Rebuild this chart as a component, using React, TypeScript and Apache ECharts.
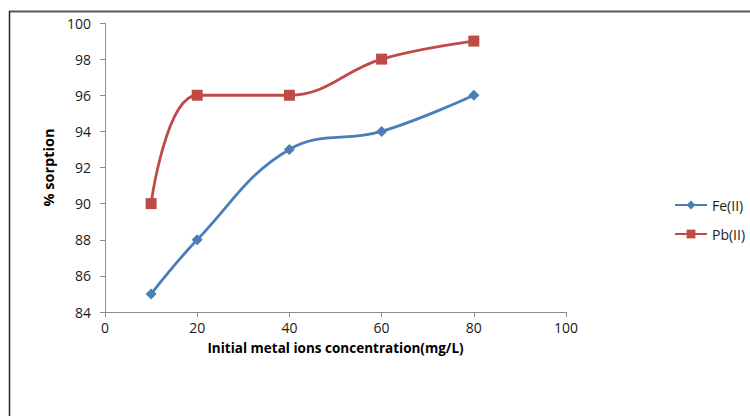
import React, { useEffect, useRef } from "react";
import * as echarts from "echarts";

const concentrations = [10, 20, 40, 60, 80];
const feValues = [85, 88, 93, 94, 96];
const pbValues = [90, 96, 96, 98, 99];
const seriesNames = ["Fe(II)", "Pb(II)"];
const xTitle = "Initial metal ions concentration(mg/L)";
const yTitle = "% sorption";

export default function App() {
  const ref = useRef<HTMLDivElement>(null);
  useEffect(() => {
    document.body.style.margin = "0";
    const chart = echarts.init(ref.current!, null, { renderer: "svg" });
    const font = "'Open Sans', 'Liberation Sans', sans-serif";
    chart.setOption({
      animation: false,
      backgroundColor: "#ffffff",
      textStyle: { fontFamily: font },
      grid: { left: 105, right: 184, top: 23, bottom: 104 },
      legend: {
        orient: "vertical",
        left: 669,
        top: 193,
        itemWidth: 32,
        itemHeight: 11,
        itemGap: 15,
        textStyle: { fontSize: 14, color: "#1a1a1a", fontFamily: font },
        data: seriesNames,
      },
      xAxis: {
        type: "value",
        min: 0,
        max: 100,
        interval: 20,
        name: xTitle,
        nameLocation: "middle",
        nameGap: 29,
        nameTextStyle: { fontSize: 13.5, fontWeight: "bold", color: "#000", fontFamily: font },
        axisLine: { show: true, lineStyle: { color: "#8c8c8c", width: 1 } },
        axisTick: { show: true, length: 5, lineStyle: { color: "#8c8c8c" } },
        axisLabel: { fontSize: 14, color: "#1a1a1a", margin: 8 },
        splitLine: { show: false },
      },
      yAxis: {
        type: "value",
        min: 84,
        max: 100,
        interval: 2,
        name: yTitle,
        nameLocation: "middle",
        nameGap: 48,
        nameRotate: 90,
        nameTextStyle: { fontSize: 14.5, fontWeight: "bold", color: "#000", fontFamily: font },
        axisLine: { show: true, lineStyle: { color: "#8c8c8c", width: 1 } },
        axisTick: { show: true, length: 5, lineStyle: { color: "#8c8c8c" } },
        axisLabel: { fontSize: 14, color: "#1a1a1a", margin: 14 },
        splitLine: { show: false },
      },
      series: [
        {
          name: seriesNames[0],
          type: "line",
          smooth: 0.4,
          data: concentrations.map((x, i) => [x, feValues[i]]),
          symbol: "diamond",
          symbolSize: 11,
          lineStyle: { color: "#4A7EBB", width: 2.8 },
          itemStyle: { color: "#4A7EBB" },
        },
        {
          name: seriesNames[1],
          type: "line",
          smooth: 0.4,
          data: concentrations.map((x, i) => [x, pbValues[i]]),
          symbol: "rect",
          symbolSize: 11,
          lineStyle: { color: "#BE4B48", width: 2.8 },
          itemStyle: { color: "#BE4B48" },
        },
      ],
      graphic: [
        { type: "line", shape: { x1: 9, y1: 11.5, x2: 750, y2: 11.5 }, style: { stroke: "#595959", lineWidth: 2 } },
        { type: "line", shape: { x1: 9.5, y1: 11, x2: 9.5, y2: 416 }, style: { stroke: "#262626", lineWidth: 1.5 } },
      ],
    });
    return () => chart.dispose();
  }, []);
  return <div ref={ref} style={{ width: 750, height: 416 }} />;
}
